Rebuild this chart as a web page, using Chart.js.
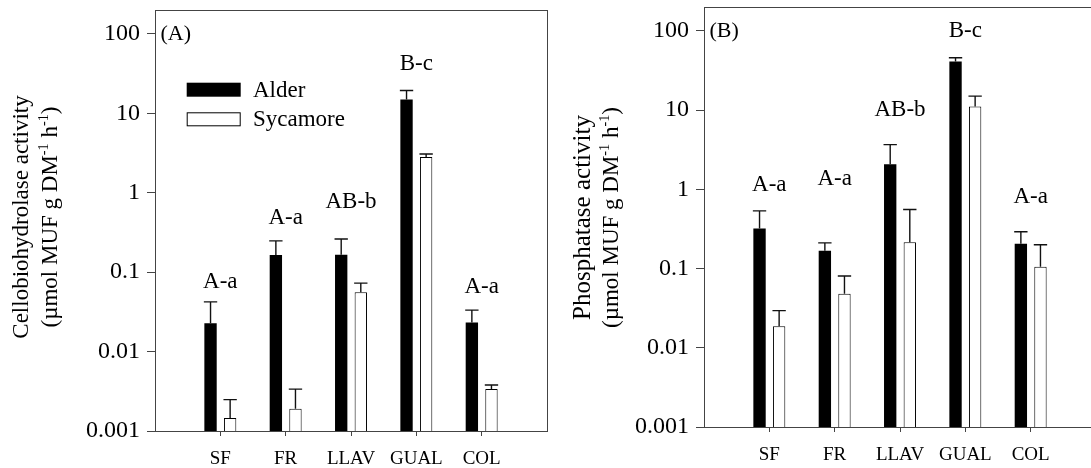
<!DOCTYPE html>
<html>
<head>
<meta charset="utf-8">
<script src="https://cdn.jsdelivr.net/npm/chart.js@4.4.1/dist/chart.umd.min.js"></script>
<style>
  html, body { margin: 0; padding: 0; background: #fff; }
  #wrap { position: relative; width: 1091px; height: 468px; overflow: hidden; background: #fff; }
  .panel { position: absolute; top: 0; width: 549px; height: 468px; }
</style>
</head>
<body>
<div id="wrap">
  <div class="panel" style="left:0"><canvas id="cA"></canvas></div>
  <div class="panel" style="left:549px"><canvas id="cB"></canvas></div>
</div>
<script>
// ---------------- data ----------------
const categories = ['SF', 'FR', 'LLAV', 'GUAL', 'COL'];
const seriesNames = ['Alder', 'Sycamore'];
const yTickValues = [0.001, 0.01, 0.1, 1, 10, 100];
const yTickLabels = ['0.001', '0.01', '0.1', '1', '10', '100'];

// (A) Cellobiohydrolase activity
const cbhAlder    = [0.0228, 0.165, 0.166, 14.9, 0.0233];
const cbhAlderErr = [0.0423, 0.248, 0.262, 19.4, 0.0333];
const cbhSyc      = [0.00146, 0.0019, 0.056, 2.82, 0.00337];
const cbhSycErr   = [0.00248, 0.00337, 0.0728, 3.08, 0.0038];
const cbhLetters  = ['A-a', 'A-a', 'AB-b', 'B-c', 'A-a'];
const cbhLetterAt = [0.0755, 0.477, 0.766, 41.3, 0.0643];

// (B) Phosphatase activity
const phoAlder    = [0.321, 0.168, 2.07, 41.0, 0.205];
const phoAlderErr = [0.535, 0.211, 3.66, 45.7, 0.291];
const phoSyc      = [0.0187, 0.0482, 0.214, 11.1, 0.105];
const phoSycErr   = [0.0294, 0.0805, 0.557, 15.0, 0.200];
const phoLetters  = ['A-a', 'A-a', 'AB-b', 'B-c', 'A-a'];
const phoLetterAt = [1.13, 1.37, 9.9, 98.9, 0.80];

// ---------------- drawing helpers ----------------
const FONT = '"Liberation Serif", "DejaVu Serif", "Times New Roman", serif';
const LINE = '#444';

function segWidth(ctx, segs, size) {
  let w = 0;
  for (const s of segs) {
    ctx.font = (s.sup ? size * 0.62 : size) + 'px ' + FONT;
    w += ctx.measureText(s.t).width;
  }
  return w;
}
function drawRotatedRich(ctx, segs, size, bx, cy) {
  ctx.save();
  ctx.translate(bx, cy);
  ctx.rotate(-Math.PI / 2);
  ctx.fillStyle = '#000';
  ctx.textAlign = 'left';
  ctx.textBaseline = 'alphabetic';
  let x = -segWidth(ctx, segs, size) / 2;
  for (const s of segs) {
    ctx.font = (s.sup ? size * 0.62 : size) + 'px ' + FONT;
    ctx.fillText(s.t, x, s.sup ? -size * 0.40 : 0);
    x += ctx.measureText(s.t).width;
  }
  ctx.restore();
}

const deco = {
  id: 'deco',
  afterDatasetsDraw(chart, args, o) {
    const ctx = chart.ctx, xs = chart.scales.x, ys = chart.scales.y, ca = chart.chartArea;
    ctx.save();
    // error bars (upper only)
    chart.data.datasets.forEach((ds, d) => {
      const meta = chart.getDatasetMeta(d);
      meta.data.forEach((el, i) => {
        const yTop = ys.getPixelForValue(ds.errUp[i]);
        const cx = el.x;
        const half = el.width / 2 + 0.5;
        ctx.strokeStyle = '#111';
        ctx.lineWidth = 1.4;
        ctx.beginPath();
        ctx.moveTo(cx, el.y);
        ctx.lineTo(cx, yTop);
        ctx.moveTo(cx - half, yTop);
        ctx.lineTo(cx + half, yTop);
        ctx.stroke();
      });
    });
    // frame
    ctx.strokeStyle = LINE;
    ctx.lineWidth = 1;
    ctx.strokeRect(Math.round(ca.left) + 0.5, Math.round(ca.top) + 0.5,
                   Math.round(ca.right) - Math.round(ca.left), Math.round(ca.bottom) - Math.round(ca.top));
    // significance letters
    ctx.fillStyle = '#000';
    ctx.font = o.letterSize + 'px ' + FONT;
    ctx.textAlign = 'center';
    ctx.textBaseline = 'middle';
    o.letters.forEach((t, i) => {
      ctx.fillText(t, xs.getPixelForValue(i), ys.getPixelForValue(o.letterAt[i]));
    });
    // panel label
    ctx.textAlign = 'left';
    ctx.font = o.panelSize + 'px ' + FONT;
    ctx.fillText(o.panel, ca.left + 5.5, ys.getPixelForValue(100));
    // legend
    if (o.legend) {
      const L = o.legend;
      chart.data.datasets.forEach((ds, d) => {
        const rx = ca.left + L.x, ry = L.y[d];
        ctx.fillStyle = ds.backgroundColor;
        ctx.fillRect(rx, ry, L.w, L.h);
        if (ds.borderWidth) {
          ctx.strokeStyle = '#000';
          ctx.lineWidth = 1;
          ctx.strokeRect(rx + 0.5, ry + 0.5, L.w - 1, L.h - 1);
        }
        ctx.fillStyle = '#000';
        ctx.font = L.size + 'px ' + FONT;
        ctx.textBaseline = 'middle';
        ctx.fillText(ds.label, ca.left + L.textX, ry + L.h / 2 + 1);
      });
    }
    ctx.restore();
  },
  afterDraw(chart, args, o) {
    const ctx = chart.ctx;
    const cy = o.titleY;
    drawRotatedRich(ctx, [{ t: o.title }], o.title1Size, o.title1X, cy);
    drawRotatedRich(ctx, [
      { t: '(\u00b5mol MUF g DM' }, { t: '-1', sup: true },
      { t: ' h' }, { t: '-1', sup: true }, { t: ')' }
    ], o.title2Size, o.title2X, cy);
  }
};

function makeChart(id, alder, alderErr, syc, sycErr, letters, letterAt, extra) {
  const pts = arr => categories.map((c, i) => ({ x: i, y: arr[i] }));
  return new Chart(document.getElementById(id), {
    type: 'bar',
    data: {
      datasets: [
        { label: seriesNames[0], data: pts(alder), errUp: alderErr,
          backgroundColor: '#000', borderWidth: 0 },
        { label: seriesNames[1], data: pts(syc), errUp: sycErr,
          backgroundColor: '#fff', borderColor: '#000', borderWidth: 1 }
      ]
    },
    plugins: [deco],
    options: {
      responsive: true,
      maintainAspectRatio: false,
      animation: false,
      events: [],
      categoryPercentage: 0.6,
      barPercentage: 0.63,
      layout: { padding: { top: extra.top, right: 2, left: 0, bottom: 0 } },
      scales: {
        x: {
          type: 'linear', min: -1, max: 5, offset: false,
          afterBuildTicks: s => { s.ticks = categories.map((c, i) => ({ value: i })); },
          afterFit: s => { s.height = extra.xHeight; s.paddingLeft = 0; s.paddingRight = 0; },
          ticks: {
            autoSkip: false, maxRotation: 0, minRotation: 0, padding: 12, color: '#000',
            font: { family: FONT, size: 19 },
            callback: (v, i) => categories[i]
          },
          grid: { offset: false, drawOnChartArea: false, drawTicks: true, tickLength: 5, color: LINE, tickColor: LINE },
          border: { display: true, color: LINE, width: 1 }
        },
        y: {
          type: 'logarithmic', min: 0.001, max: 200,
          afterBuildTicks: s => { s.ticks = yTickValues.map(v => ({ value: v, major: true })); },
          afterFit: s => { s.width = 155; s.paddingTop = 0; s.paddingBottom = 0; },
          ticks: {
            autoSkip: false, padding: 7, color: '#000',
            font: { family: FONT, size: 24 },
            callback: (v, i) => yTickLabels[i]
          },
          grid: { drawOnChartArea: false, drawTicks: true, tickLength: 8, color: LINE, tickColor: LINE },
          border: { display: true, color: LINE, width: 1 }
        }
      },
      plugins: {
        legend: { display: false },
        tooltip: { enabled: false },
        deco: Object.assign({ letters, letterAt, letterSize: 23, panelSize: 22 }, extra.deco)
      }
    }
  });
}

makeChart('cA', cbhAlder, cbhAlderErr, cbhSyc, cbhSycErr, cbhLetters, cbhLetterAt, {
  top: 10, xHeight: 37,
  deco: {
    panel: '(A)', title: 'Cellobiohydrolase activity',
    title1Size: 23, title2Size: 23, title1X: 28.3, title2X: 56.7, titleY: 217,
    legend: { x: 31.7, y: [82.7, 112.3], w: 54, h: 14, textX: 98, size: 23 }
  }
});
makeChart('cB', phoAlder, phoAlderErr, phoSyc, phoSycErr, phoLetters, phoLetterAt, {
  top: 7, xHeight: 41,
  deco: {
    panel: '(B)', title: 'Phosphatase activity',
    title1Size: 25, title2Size: 23, title1X: 41, title2X: 69, titleY: 217.5,
    legend: null
  }
});
</script>
</body>
</html>
